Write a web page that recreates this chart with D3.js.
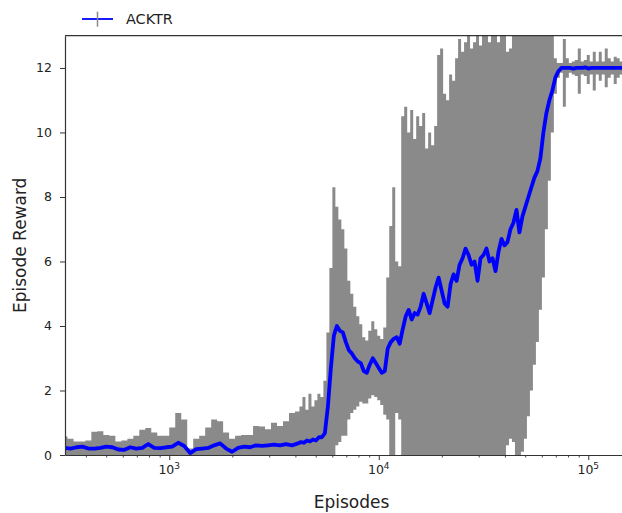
<!DOCTYPE html>
<html><head><meta charset="utf-8">
<script src="https://cdn.jsdelivr.net/npm/d3@7"></script>
<style>
body{margin:0;background:#fff}
svg{display:block}
text{font-family:"DejaVu Sans",sans-serif;fill:#222}
</style>
</head><body>
<svg id="c" width="622" height="513"></svg>
<script>
// ---- data ----
const episodes = [316,338,361,385,411,439,469,501,535,572,611,652,696,744,794,848,906,968,
1033,1104,1179,1259,1345,1436,1534,1638,1749,1868,1995,2131,2276,2431,2596,2773,2961,3162,3378,3607,3852,4114,
4252,4394,4541,4693,4850,5012,5180,5353,5532,5717,5908,6106,6310,6521,6739,6964,7197,7438,7686,7943,8209,8483,8767,9060,9363,9677,
10000,10334,10680,11037,11406,11788,12182,12589,13010,13446,13895,14360,14841,15337,15849,16379,16927,17494,18079,18684,19307,19953,
20620,21310,22023,22760,23521,24308,25119,25960,26827,27725,28652,29611,30602,31623,32681,33775,34905,36073,37276,38524,39811,
41143,42520,43940,45410,46930,48501,50119,51795,53529,55318,57170,59082,61058,63096,65209,67390,69644,71969,74378,76863,79433,
82093,84834,87671,90604,93634,96766,100000,103340,106800,110370,114060,117880,121820,125890,130100,134460,138950,143600,148410];

const reward = [0.22,0.20,0.24,0.26,0.20,0.20,0.22,0.26,0.24,0.17,0.16,0.24,0.20,0.22,0.34,0.22,0.21,0.24,
0.26,0.38,0.28,0.06,0.18,0.20,0.22,0.30,0.36,0.20,0.10,0.22,0.26,0.24,0.30,0.28,0.30,0.32,0.30,0.34,0.30,0.36,
0.40,0.38,0.45,0.42,0.48,0.45,0.55,0.55,0.68,1.50,2.70,3.70,4.00,3.85,3.80,3.50,3.25,3.15,3.00,2.90,2.85,2.60,2.55,2.80,3.00,2.85,
2.70,2.55,2.60,3.30,3.50,3.60,3.65,3.45,3.90,4.30,4.50,4.20,4.40,4.35,4.60,5.00,4.70,4.40,4.80,5.20,5.50,5.10,
4.70,4.60,5.30,5.60,5.40,5.90,6.10,6.40,6.20,5.90,6.00,5.40,6.10,6.20,6.40,6.00,6.10,5.70,6.30,6.70,6.50,
6.60,7.00,7.20,7.60,6.90,7.40,7.70,8.00,8.30,8.60,8.80,9.20,10.00,10.60,11.00,11.30,11.70,11.90,12.00,12.00,12.00,
12.00,11.98,12.00,12.00,12.00,12.02,11.98,12.00,12.00,12.00,12.00,12.00,12.00,12.00,12.00,12.00,12.00,12.00,12.00];

const bandHigh = [0.57,0.50,0.42,0.42,0.45,0.72,0.74,0.62,0.60,0.42,0.45,0.50,0.60,0.78,0.84,0.70,0.60,0.60,
0.85,1.30,1.10,0.20,0.50,0.60,0.85,1.10,1.05,0.70,0.50,0.60,0.62,0.62,0.90,0.88,0.80,1.00,0.90,1.05,1.30,1.35,
1.50,1.80,1.40,1.90,1.50,1.70,1.90,1.80,2.30,3.80,5.80,8.30,7.70,7.30,7.00,6.40,5.40,5.00,4.60,4.30,4.05,3.65,3.55,3.85,4.15,3.90,
3.70,3.60,3.95,5.50,7.10,8.30,6.00,5.85,10.50,10.80,10.00,10.70,9.80,10.50,10.20,10.60,9.50,10.00,9.60,10.20,12.40,12.60,
11.20,11.00,11.80,11.60,12.30,12.90,12.50,12.80,13.00,12.60,12.80,13.00,12.70,13.00,13.00,12.80,13.00,13.00,12.80,13.00,13.00,
12.50,12.60,13.00,13.00,13.00,13.00,13.00,13.00,13.00,13.00,13.00,13.00,13.00,13.00,13.00,13.00,12.30,12.15,12.15,12.90,12.30,
12.15,12.20,12.25,12.60,12.20,12.25,12.40,12.20,12.50,12.20,12.50,12.20,12.60,12.30,12.20,12.35,12.30,12.20,12.15];

const bandLow = [0,0,0,0,0,0,0,0,0,0,0,0,0,0,0,0,0,0,
0,0,0,0,0,0,0,0,0,0,0,0,0,0,0,0,0,0,0,0,0,0,
0,0,0,0,0,0,0,0,0,0,0,0,0.30,0.40,0.60,0.60,1.10,1.30,1.40,1.50,1.65,1.60,1.60,1.75,1.85,1.80,
1.70,1.55,1.25,1.10,0,0,1.30,1.10,0,0,0,0,0,0,0,0,0,0,0,0,0,0,
0,0,0,0,0,0,0,0,0,0,0,0,0,0,0,0,0,0,0,0,0,
0.30,0.50,0.40,0,0,0.10,0.50,1.20,2.00,2.80,3.50,4.50,5.50,7.00,8.50,10.00,11.20,11.70,11.85,10.80,11.70,
11.85,11.80,11.75,11.20,11.80,11.75,11.50,11.80,11.30,11.80,11.60,11.80,11.40,11.70,11.80,11.50,11.70,11.80,11.85];

const yTicks = [0, 2, 4, 6, 8, 10, 12];
const xMajorTicks = [1000, 10000, 100000];
const xTickBase = ["10", "10", "10"];
const xTickExp = ["3", "4", "5"];
const xDomain = [318, 172700];
const yDomain = [0, 13];
const seriesName = "ACKTR";
const xTitle = "Episodes";
const yTitle = "Episode Reward";

// ---- drawing ----
const M = {left: 65, top: 35.7, right: 638, bottom: 455};
const svg = d3.select("#c");
const x = d3.scaleLog().domain(xDomain).range([M.left, M.right]);
const y = d3.scaleLinear().domain(yDomain).range([M.bottom, M.top]);
const data = episodes.map((e, i) => ({e, r: reward[i], hi: bandHigh[i], lo: bandLow[i]}));

svg.append("clipPath").attr("id", "clip").append("rect")
  .attr("x", M.left).attr("y", M.top).attr("width", M.right - M.left).attr("height", M.bottom - M.top);
const g = svg.append("g").attr("clip-path", "url(#clip)");

g.append("path").datum(data)
  .attr("d", d3.area().x(d => x(d.e)).y0(d => y(d.lo)).y1(d => y(d.hi)).curve(d3.curveStep))
  .attr("fill", "#8a8a8a");

g.append("path").datum(data)
  .attr("d", d3.line().x(d => x(d.e)).y(d => y(d.r)))
  .attr("fill", "none").attr("stroke", "#0000ff").attr("stroke-width", 3.8)
  .attr("stroke-linejoin", "round");

const spine = "#333";
// Y axis
const ya = svg.append("g").attr("transform", `translate(${M.left},0)`)
  .call(d3.axisLeft(y).tickValues(yTicks).tickSize(5).tickSizeOuter(0).tickPadding(8).tickFormat(d3.format("d")));
ya.select(".domain").attr("stroke", spine).attr("stroke-width", 1.2);
ya.selectAll(".tick line").attr("stroke", spine).attr("stroke-width", 1);
ya.selectAll(".tick text").style("font-size", "12.5px").attr("fill", "#222");

// X axis minor ticks
const minor = x.ticks().filter(v => !xMajorTicks.includes(v));
const xminor = svg.append("g").attr("transform", `translate(0,${M.bottom})`)
  .call(d3.axisBottom(x).tickValues(minor).tickSize(2.5).tickSizeOuter(0).tickFormat(""));
xminor.select(".domain").remove();
xminor.selectAll(".tick line").attr("stroke", spine).attr("stroke-width", 0.9);

// X axis major ticks
const xa = svg.append("g").attr("transform", `translate(0,${M.bottom})`)
  .call(d3.axisBottom(x).tickValues(xMajorTicks).tickSize(5).tickSizeOuter(0).tickFormat(""));
xa.select(".domain").attr("stroke", spine).attr("stroke-width", 1.2);
xa.selectAll(".tick line").attr("stroke", spine).attr("stroke-width", 1);
xMajorTicks.forEach((t, i) => {
  const tx = svg.append("text").attr("x", x(t)).attr("y", 473.5).attr("text-anchor", "middle");
  tx.append("tspan").style("font-size", "12.5px").text(xTickBase[i]);
  tx.append("tspan").style("font-size", "9px").attr("dy", -5).text(xTickExp[i]);
});

// top spine
svg.append("line").attr("x1", M.left).attr("x2", M.right).attr("y1", M.top).attr("y2", M.top)
  .attr("stroke", spine).attr("stroke-width", 1.2);

// titles
svg.append("text").attr("x", (M.left + M.right) / 2).attr("y", 508.3).attr("text-anchor", "middle")
  .style("font-size", "17px").text(xTitle);
svg.append("text").attr("transform", `translate(26,${(M.top + M.bottom) / 2}) rotate(-90)`)
  .attr("text-anchor", "middle").style("font-size", "17px").text(yTitle);

// legend
const lg = svg.append("g");
lg.append("line").attr("x1", 82).attr("x2", 113).attr("y1", 19).attr("y2", 19)
  .attr("stroke", "#0000ff").attr("stroke-width", 1.8);
lg.append("line").attr("x1", 97.5).attr("x2", 97.5).attr("y1", 11.7).attr("y2", 26.7)
  .attr("stroke", "#8a8a8a").attr("stroke-width", 1.5);
lg.append("text").attr("x", 126).attr("y", 24).style("font-size", "14.4px").text(seriesName);
</script>
</body></html>
